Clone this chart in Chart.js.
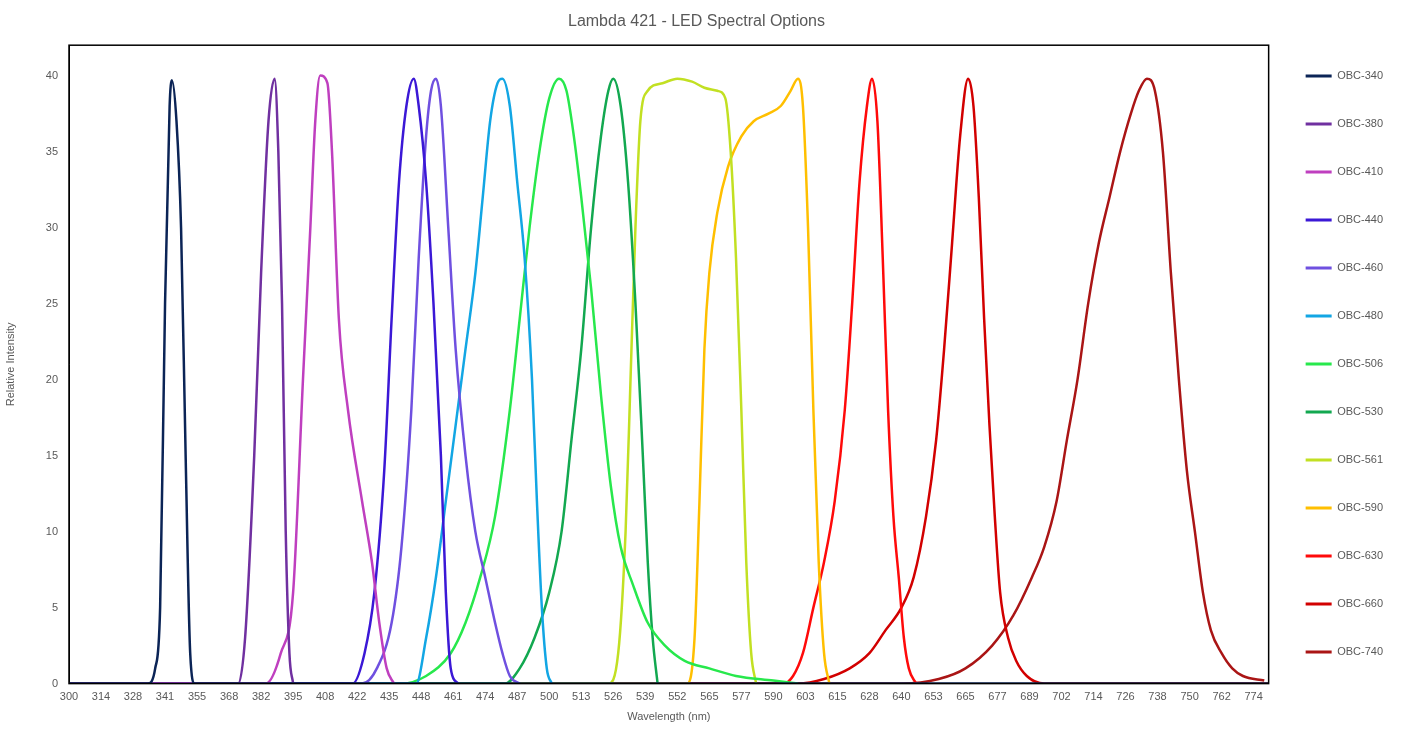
<!DOCTYPE html>
<html><head><meta charset="utf-8">
<script src="https://cdn.jsdelivr.net/npm/chart.js@4/dist/chart.umd.min.js"></script>
<style>html,body{margin:0;padding:0;background:#fff}#w{width:1413px;height:739px}</style>
</head><body><div id="w"><canvas id="c"></canvas></div>
<script>
const tickLabels=[300,314,328,341,355,368,382,395,408,422,435,448,461,474,487,500,513,526,539,552,565,577,590,603,615,628,640,653,665,677,689,702,714,726,738,750,762,774];
const seriesNames=["OBC-340","OBC-380","OBC-410","OBC-440","OBC-460","OBC-480","OBC-506","OBC-530","OBC-561","OBC-590","OBC-630","OBC-660","OBC-740"];
const colors=["#0b2456","#7030a0","#bf3fbf","#3b18d6","#6f50e0","#12a6e4","#27e84c","#12a850","#c2e022","#ffbf00","#ff0a0a","#d20000","#aa1515"];
const s340=[[300,0],[334,0],[337,1],[339,5],[341,25],[343,38],[344,39.7],[346,37],[348,30],[350,15],[352,2],[354,0],[780,0]];
const s380=[[300,0],[372,0],[375,3],[379,15],[382,27],[385,37],[387.5,39.8],[389,35],[390.5,25],[392,10],[393.5,2],[395,0]];
const s410=[[300,0],[384,0],[390,2],[395,6],[399,20],[402,30],[404,37],[406,40],[409,39.5],[411,35],[414,24],[418,18],[424,12],[428,8],[431,4],[434,1],[437,0]];
const s440=[[300,0],[420,0],[425,2],[429,6],[433,14],[436,24],[439,33],[442,38],[445,39.8],[447,38],[450,33],[453,25],[456,15],[458,6],[460,1],[463,0]];
const s460=[[300,0],[424,0],[430,1],[436,4],[440,9],[444,18],[447,28],[450,36],[452,39],[454,39.8],[456,38],[459,30],[462,22],[466,15],[470,10],[474,7],[478,4],[481,2],[484,0.5],[488,0]];
const s480=[[300,0],[446,0],[450,3],[454,7],[458,12],[462,17],[466,22],[470,27],[473,32],[476,37],[479,39.5],[481,39.8],[484,38],[487,33],[490,28],[493,20],[495,12],[497,5],[499,1],[501,0]];
const s506=[[300,0],[440,0],[450,0.5],[460,2],[466,4],[472,7],[478,11],[484,18],[488,24],[492,30],[496,35],[500,38.5],[504,39.8],[507,39],[510,36],[513,32],[517,26],[521,19],[525,13],[529,9],[534,6.5],[540,4],[547,2.5],[555,1.5],[565,1],[575,0.5],[590,0.2],[600,0]];
const s530=[[300,0],[482,0],[488,1],[494,3],[500,6],[505,10],[509,16],[513,22],[517,30],[521,36],[524,39],[526,39.8],[529,38],[532,33],[535,25],[538,15],[540,8],[542,3],[544,0]];
const s561=[[300,0],[524,0],[528,2],[531,10],[533,20],[535,30],[537,37],[540,39],[546,39.5],[552,39.8],[558,39.6],[563,39.2],[568,39],[571,38.5],[573,35],[575,28],[577,18],[579,8],[581,2],[583,0]];
const s590=[[300,0],[556,0],[559,3],[561,12],[563,22],[565,27],[568,31],[572,34],[577,36],[582,37],[588,37.5],[593,38],[597,39],[600,39.8],[602,38],[604,30],[606,18],[608,8],[610,2],[612,0]];
const s630=[[300,0],[594,0],[598,0.5],[602,2],[606,5],[610,8],[614,12],[618,18],[621,25],[624,33],[627,38],[629,39.8],[631,37],[633,28],[635,18],[637,11],[639,7],[641,3],[643,1],[646,0]];
const s660=[[300,0],[600,0],[610,0.3],[620,1],[628,2],[634,3.5],[640,5],[645,7],[650,11],[654,16],[657,22],[660,29],[663,36],[666,39.8],[668,38],[670,32],[672,24],[674,17],[676,11],[678,6],[681,3],[684,1.5],[688,0.5],[695,0],[780,0]];
const s740=[[300,0],[640,0],[655,0.3],[665,1],[675,2.5],[683,4.5],[690,7],[695,9],[700,12],[704,16],[708,20],[712,25],[716,29],[720,32],[724,35],[728,37.5],[731,39],[734,39.8],[737,39],[740,35],[743,27],[746,20],[749,14],[752,10],[755,6],[758,3.5],[762,2],[766,1],[770,0.5],[778,0.2]];
const allSeries=[s340,s380,s410,s440,s460,s480,s506,s530,s561,s590,s630,s660,s740];

function toIdx(w){
  const L=tickLabels;
  for(let i=0;i<L.length-1;i++){ if(w<=L[i+1]) return i+(w-L[i])/(L[i+1]-L[i]); }
  const n=L.length-1; return n+(w-L[n])/(L[n]-L[n-1]);
}
const datasets=allSeries.map((s,i)=>({label:seriesNames[i],data:s.map(p=>({x:toIdx(p[0]),y:p[1]})),borderColor:colors[i],backgroundColor:colors[i],borderWidth:2.5,pointRadius:0,cubicInterpolationMode:'monotone',fill:false}));

const frame={id:'frame',afterDatasetsDraw(c){const a=c.chartArea,x=c.ctx;x.save();x.strokeStyle='#000';x.lineWidth=1.5;x.strokeRect(a.left,a.top,a.right-a.left,a.bottom-a.top);x.restore();}};

new Chart(document.getElementById('c'),{type:'line',data:{datasets},plugins:[frame],
options:{responsive:true,maintainAspectRatio:false,animation:false,
layout:{padding:{left:0,right:20,top:0,bottom:11}},
plugins:{title:{display:true,text:'Lambda 421 - LED Spectral Options',color:'#595959',font:{family:'Liberation Sans',size:16,weight:'normal'},padding:{top:12,bottom:14}},
legend:{position:'right',labels:{color:'#595959',font:{family:'Liberation Sans',size:11},boxWidth:26,boxHeight:3,padding:37,
generateLabels(c){return c.data.datasets.map((d,i)=>({text:d.label,fillStyle:d.borderColor,strokeStyle:d.borderColor,lineWidth:0,datasetIndex:i,fontColor:'#595959'}));}}},
tooltip:{enabled:false}},
scales:{x:{type:'linear',min:0,max:37.47,grid:{display:false,drawTicks:true,tickLength:4},border:{color:'#000'},
afterBuildTicks:s=>{s.ticks=tickLabels.map((_,i)=>({value:i}));},
ticks:{autoSkip:false,maxRotation:0,color:'#595959',font:{family:'Liberation Sans',size:11},callback:v=>Number.isInteger(v)&&v<tickLabels.length?tickLabels[v]:''},
title:{display:true,text:'Wavelength (nm)',color:'#595959',font:{family:'Liberation Sans',size:11}}},
y:{min:0,max:42,grid:{display:false},border:{color:'#000'},afterFit:s=>{s.width=69;},
ticks:{stepSize:5,color:'#595959',font:{family:'Liberation Sans',size:11},callback:v=>v%5===0&&v<=40?v:''},
title:{display:true,text:'Relative Intensity',color:'#595959',font:{family:'Liberation Sans',size:11}}}}}});
</script></body></html>
